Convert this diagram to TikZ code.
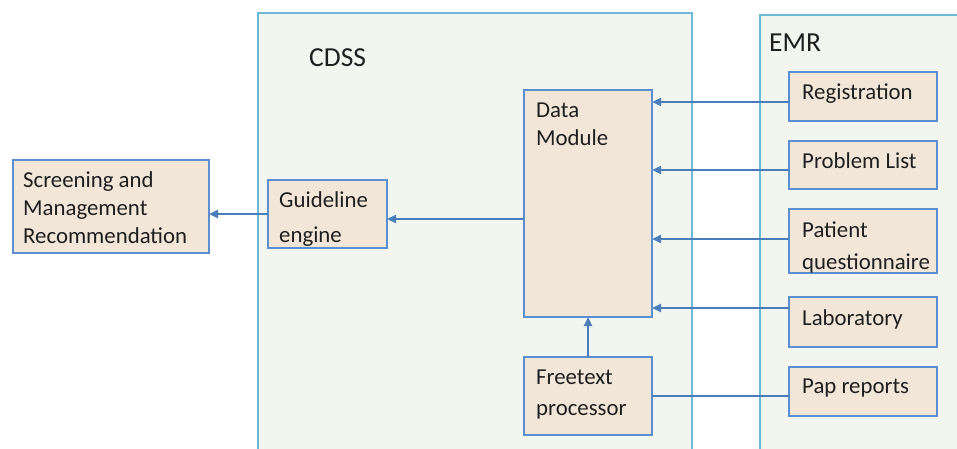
\documentclass[tikz,border=0pt]{standalone}
\usepackage{fontspec}
\setmainfont{Carlito}
\usetikzlibrary{arrows.meta}
\definecolor{boxfill}{HTML}{F2E6D8}
\definecolor{boxline}{HTML}{5B8FCF}
\definecolor{arrowc}{HTML}{4A7EBB}
\definecolor{panelfill}{HTML}{F3F5EF}
\definecolor{panelline}{HTML}{6CBAD8}
\tikzset{
  x=1pt, y=-1pt,
  panel/.style={fill=panelfill, draw=panelline, line width=1.6pt},
  box/.style={draw=boxline, fill=boxfill, line width=2.2pt, anchor=north west, inner sep=0pt, outer sep=0pt},
  txt/.style={anchor=base west, inner sep=0pt, font=\fontsize{22.8}{27}\selectfont, text=black!88},
  title/.style={anchor=base west, inner sep=0pt, font=\fontsize{27.5}{32}\selectfont, text=black!88},
  conn/.style={draw=arrowc, line width=2.4pt, -{Triangle[length=9pt,width=8pt]}},
  plain/.style={draw=arrowc, line width=2.4pt},
}
\begin{document}
\begin{tikzpicture}
\useasboundingbox (0,0) rectangle (957,448);
\clip (0,0) rectangle (957,448);
\fill[white] (0,0) rectangle (957,448);
% panels
\draw[panel] (258,13) rectangle (692,460);
\draw[panel] (760,15) rectangle (970,460);
\node[title] (cdss) at (309,66) {CDSS};
\node[title] (emr) at (769,51) {EMR};
% boxes
\node[box, minimum width=196pt, minimum height=93pt] (scr) at (13,160) {};
\node[box, minimum width=119pt, minimum height=68pt] (gde) at (268,180) {};
\node[box, minimum width=128pt, minimum height=227pt] (dm) at (524,90) {};
\node[box, minimum width=128pt, minimum height=78pt] (ft) at (524,357) {};
\node[box, minimum width=148pt, minimum height=49pt] (reg) at (789,72) {};
\node[box, minimum width=148pt, minimum height=48pt] (pl) at (789,141) {};
\node[box, minimum width=148pt, minimum height=64pt] (pq) at (789,209) {};
\node[box, minimum width=148pt, minimum height=50pt] (lab) at (789,297) {};
\node[box, minimum width=148pt, minimum height=49pt] (pap) at (789,367) {};
% texts
\node[txt] (scr1) at (23,187) {Screening and};
\node[txt] (scr2) at (23,215) {Management};
\node[txt] (scr3) at (23,243) {Recommendation};
\node[txt] (gde1) at (279,207) {Guideline};
\node[txt] (gde2) at (279,242) {engine};
\node[txt] (dm1) at (536,117) {Data};
\node[txt] (dm2) at (536,145) {Module};
\node[txt] (ft1) at (536,384) {Freetext};
\node[txt] (ft2) at (536,415) {processor};
\node[txt] (reg1) at (802,99) {Registration};
\node[txt] (pl1) at (802,168) {Problem List};
\node[txt] (pq1) at (802,237) {Patient};
\node[txt] (pq2) at (802,269) {questionnaire};
\node[txt] (lab1) at (802,325) {Laboratory};
\node[txt] (pap1) at (802,393) {Pap reports};
% connectors
\draw[conn] (reg.west |- 0,102) -- (dm.east |- 0,102);
\draw[conn] (pl.west |- 0,170) -- (dm.east |- 0,170);
\draw[conn] (pq.west |- 0,239) -- (dm.east |- 0,239);
\draw[conn] (lab.west |- 0,308) -- (dm.east |- 0,308);
\draw[plain] (pap.west |- 0,396) -- (ft.east |- 0,396);
\draw[conn] (ft.north -| 588,0) -- (dm.south -| 588,0);
\draw[conn] (dm.west |- 0,219) -- (gde.east |- 0,219);
\draw[conn] (gde.west |- 0,214) -- (scr.east |- 0,214);
\end{tikzpicture}
\end{document}
